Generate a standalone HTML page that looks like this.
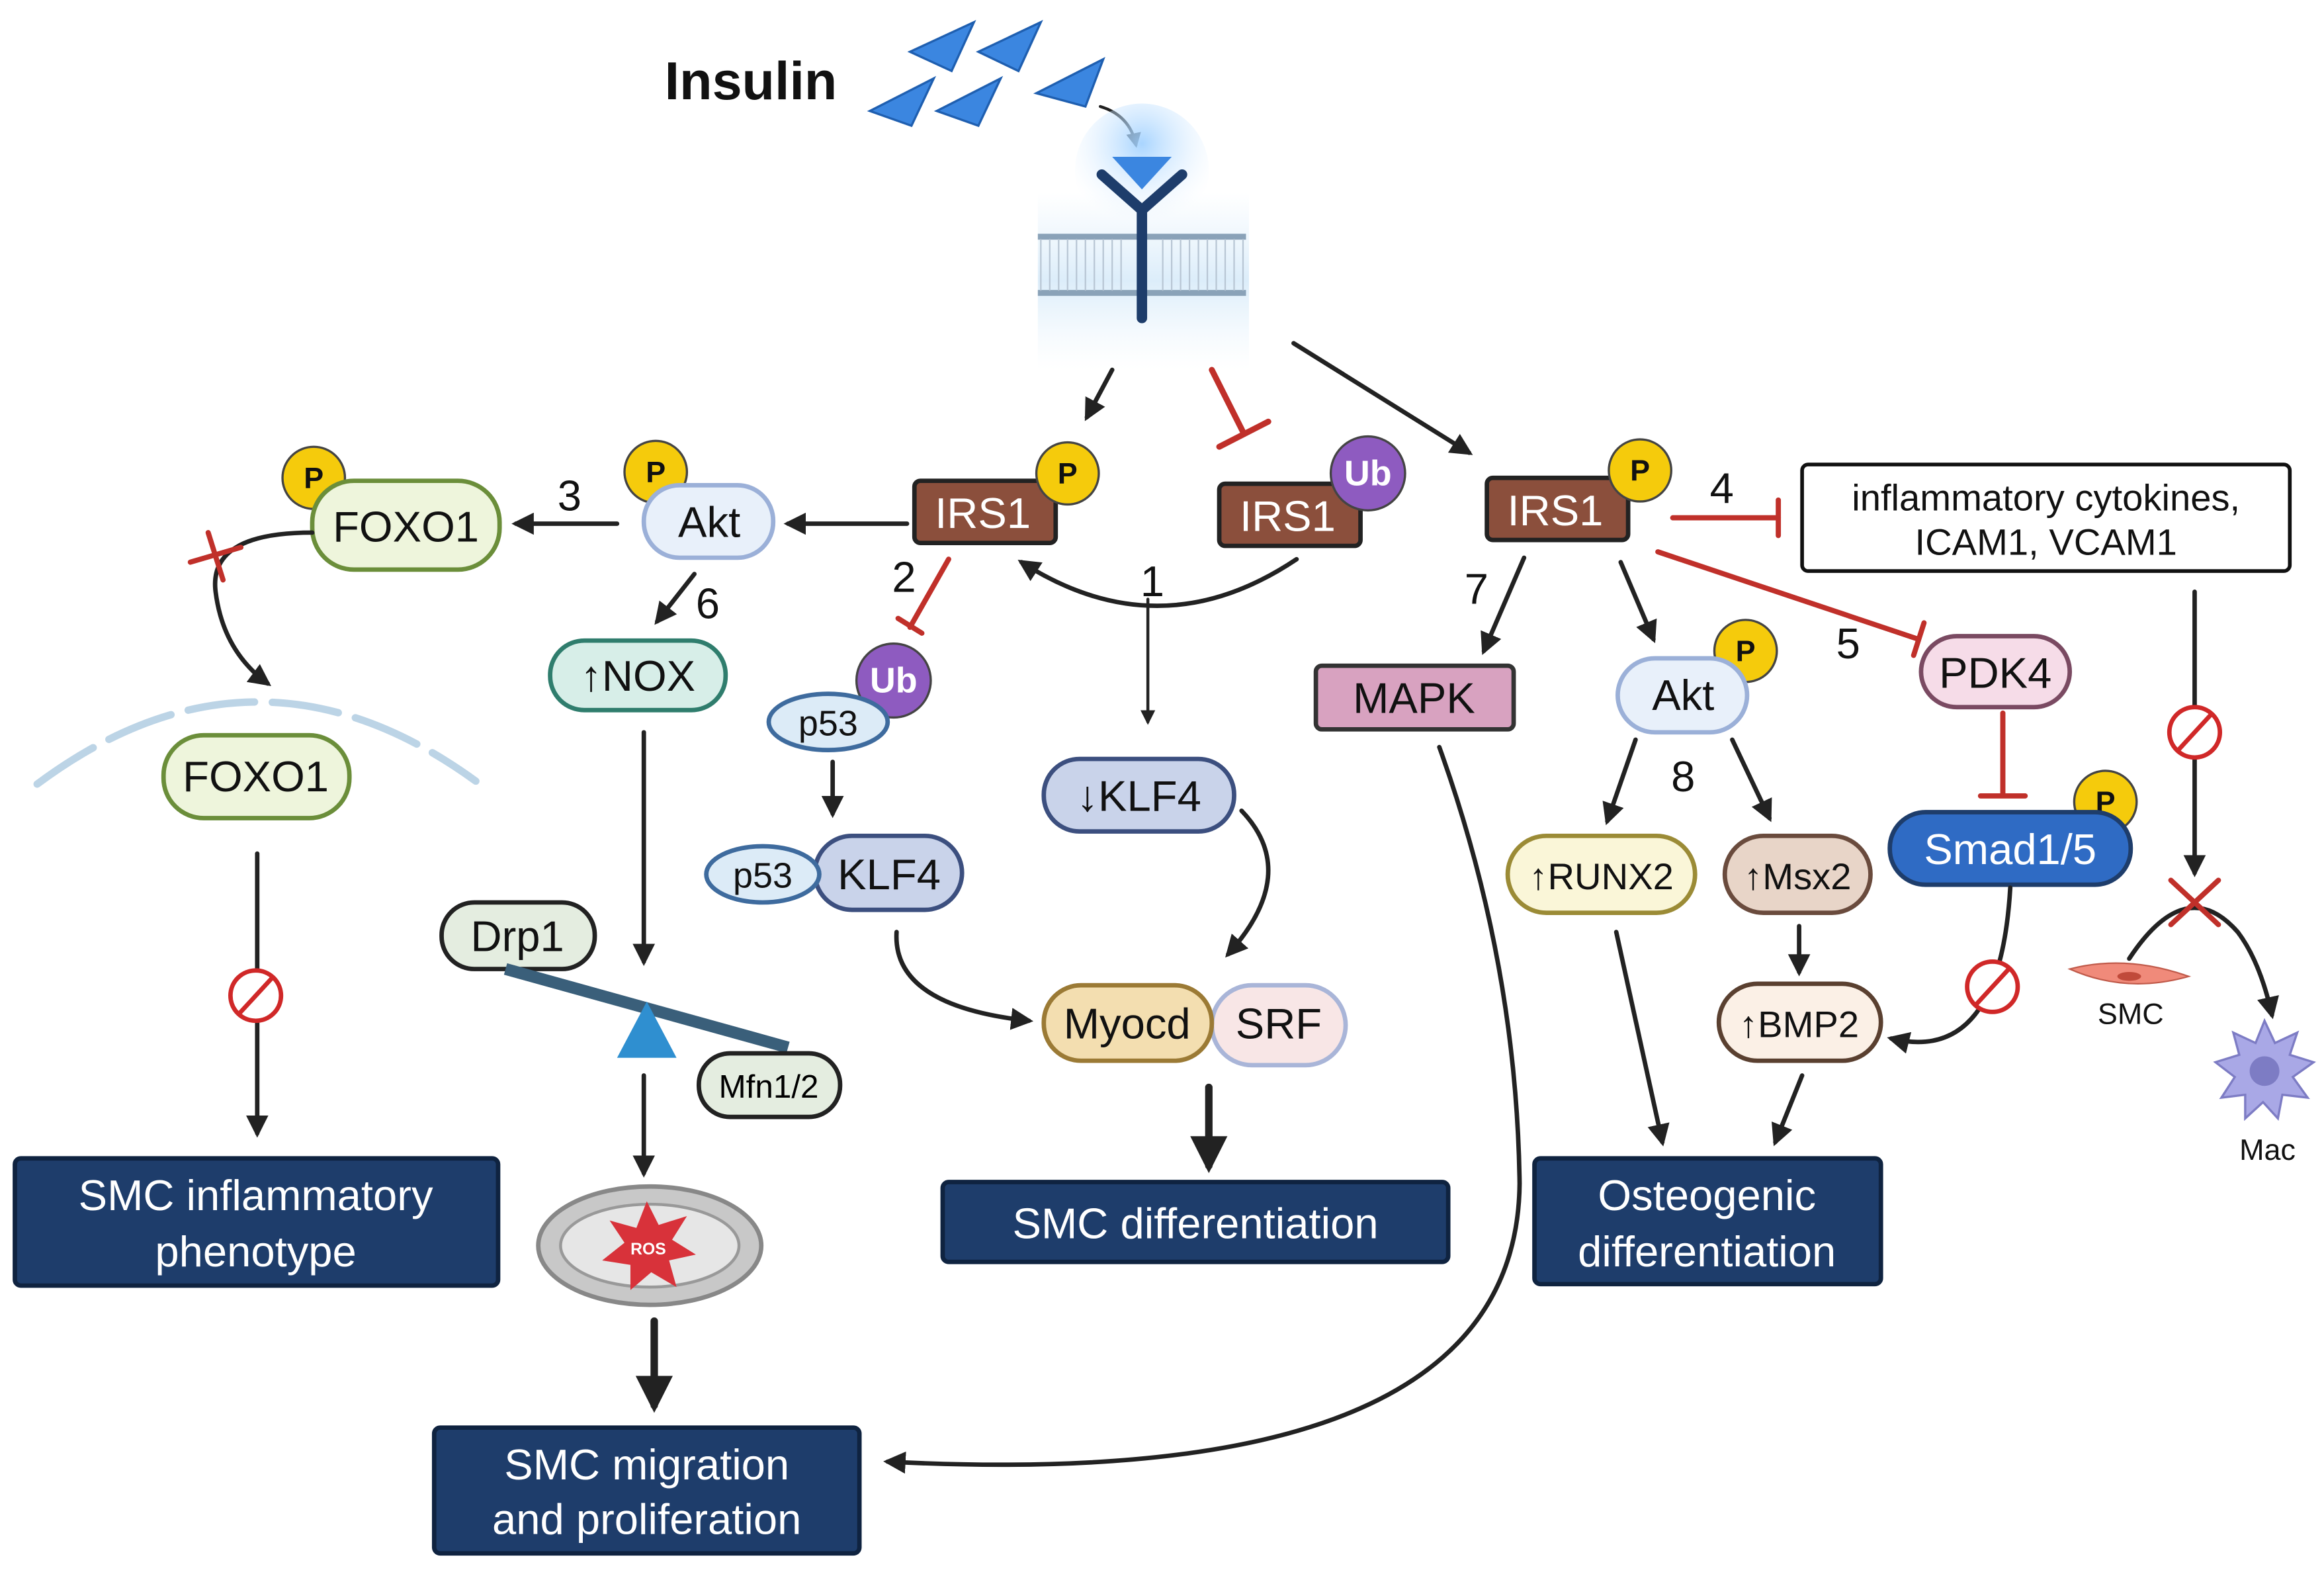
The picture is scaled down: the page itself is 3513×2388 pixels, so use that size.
<!DOCTYPE html>
<html><head><meta charset="utf-8"><style>
html,body{margin:0;padding:0;background:#fff}
svg{display:block}
text{font-family:"Liberation Sans",sans-serif}
</style></head><body>
<svg width="3513" height="2388" viewBox="0 0 1563 1068" preserveAspectRatio="none" xmlns="http://www.w3.org/2000/svg">
<defs>
<marker id="ah" viewBox="0 0 10 10" refX="8" refY="5" markerWidth="5" markerHeight="5" orient="auto"><path d="M0,0L10,5L0,10z" fill="#222"/></marker>
<radialGradient id="glow" cx="0.5" cy="0.3" r="0.6"><stop offset="0" stop-color="#9fd0ff" stop-opacity="0.9"/><stop offset="1" stop-color="#e8f4ff" stop-opacity="0"/></radialGradient>
<linearGradient id="mem" x1="0" y1="0" x2="0" y2="1"><stop offset="0" stop-color="#e3f1fb" stop-opacity="0"/><stop offset="0.5" stop-color="#dcedfa"/><stop offset="1" stop-color="#eef7fd" stop-opacity="0"/></linearGradient>
</defs>
<g stroke-linecap="round">
<!-- Insulin -->
<text x="447" y="67" font-size="36" font-weight="bold" fill="#111">Insulin</text>
<g fill="#3B86E0" stroke="#1f5fb0" stroke-width="1.5">
<polygon points="612,35 655,15 640,48"/><polygon points="658,35 700,15 685,48"/>
<polygon points="585,75 628,53 613,85"/><polygon points="630,75 673,53 658,85"/>
<polygon points="697,63 742,40 730,72"/>
</g>
<path d="M740,72 Q760,78 764,98" fill="none" stroke="#222" stroke-width="2" marker-end="url(#ah)"/>
<!-- receptor -->
<rect x="698" y="130" width="142" height="120" fill="url(#mem)"/>
<circle cx="768" cy="115" r="45" fill="url(#glow)"/>
<g fill="#8aa2b8">
<rect x="698" y="158" width="140" height="4"/><rect x="698" y="196" width="140" height="4"/>
</g>
<g stroke="#b8c6d4" stroke-width="1">
<path d="M700,162 V196 M706,162 V196 M712,162 V196 M718,162 V196 M724,162 V196 M730,162 V196 M736,162 V196 M742,162 V196 M748,162 V196 M754,162 V196 M782,162 V196 M788,162 V196 M794,162 V196 M800,162 V196 M806,162 V196 M812,162 V196 M818,162 V196 M824,162 V196 M830,162 V196 M836,162 V196"/>
</g>
<path d="M741,118 L768,142 L795,118" fill="none" stroke="#1e3d6b" stroke-width="7"/>
<line x1="768" y1="142" x2="768" y2="215" stroke="#1e3d6b" stroke-width="7"/>
<polygon points="748,106 788,106 768,128" fill="#3B86E0"/>
<!-- top arrows -->
<line x1="748" y1="250" x2="731" y2="282" stroke="#222" stroke-width="3" marker-end="url(#ah)"/>
<line x1="815" y1="250" x2="836" y2="292" stroke="#c0302a" stroke-width="4"/>
<line x1="820" y1="302" x2="853" y2="285" stroke="#c0302a" stroke-width="4"/>
<line x1="870" y1="232" x2="988" y2="306" stroke="#222" stroke-width="3" marker-end="url(#ah)"/>
</g>
<g font-size="29" text-anchor="middle" fill="#111">
<!-- IRS1 boxes -->
<rect x="615" y="325" width="95" height="42" rx="4" fill="#8B4F3C" stroke="#222" stroke-width="3"/><text x="661" y="357" fill="#fff">IRS1</text>
<rect x="820" y="327" width="95" height="42" rx="4" fill="#8B4F3C" stroke="#222" stroke-width="3"/><text x="866" y="359" fill="#fff">IRS1</text>
<rect x="1000" y="323" width="95" height="42" rx="4" fill="#8B4F3C" stroke="#222" stroke-width="3"/><text x="1046" y="355" fill="#fff">IRS1</text>
<!-- P / Ub -->
<g font-size="20" font-weight="bold">
<circle cx="718" cy="320" r="21" fill="#F5CB0C" stroke="#444" stroke-width="1.5"/><text x="718" y="327">P</text>
<circle cx="1103" cy="318" r="21" fill="#F5CB0C" stroke="#444" stroke-width="1.5"/><text x="1103" y="325">P</text>
<circle cx="441" cy="319" r="21" fill="#F5CB0C" stroke="#444" stroke-width="1.5"/><text x="441" y="326">P</text>
<circle cx="211" cy="323" r="21" fill="#F5CB0C" stroke="#444" stroke-width="1.5"/><text x="211" y="330">P</text>
<circle cx="1174" cy="440" r="21" fill="#F5CB0C" stroke="#444" stroke-width="1.5"/><text x="1174" y="447">P</text>
<circle cx="1416" cy="542" r="21" fill="#F5CB0C" stroke="#444" stroke-width="1.5"/><text x="1416" y="549">P</text>
<circle cx="920" cy="320" r="25" fill="#8E5BC0" stroke="#444" stroke-width="1.5"/><text x="920" y="328" fill="#fff" font-size="24">Ub</text>
<circle cx="601" cy="460" r="25" fill="#8E5BC0" stroke="#444" stroke-width="1.5"/><text x="601" y="468" fill="#fff" font-size="24">Ub</text>
</g>
<!-- left cluster -->
<rect x="433" y="328" width="87" height="49" rx="24" fill="#E8F0FA" stroke="#9BB0D8" stroke-width="3"/><text x="477" y="363">Akt</text>
<rect x="210" y="325" width="126" height="60" rx="28" fill="#EEF5DC" stroke="#6B8E3A" stroke-width="3"/><text x="273" y="366">FOXO1</text>
<rect x="370" y="433" width="118" height="47" rx="23" fill="#D7EEE8" stroke="#2F7D6D" stroke-width="3"/><text x="429" y="467">↑NOX</text>
<ellipse cx="557" cy="488" rx="40" ry="19" fill="#DCEBF7" stroke="#3E6B9E" stroke-width="3"/><text x="557" y="497" font-size="24">p53</text>
<rect x="548" y="565" width="99" height="50" rx="25" fill="#C9D3EA" stroke="#3C4F7F" stroke-width="3"/>
<ellipse cx="513" cy="591" rx="38" ry="19" fill="#DCEBF7" stroke="#3E6B9E" stroke-width="3"/><text x="513" y="600" font-size="24">p53</text>
<text x="598" y="601">KLF4</text>
<rect x="702" y="513" width="128" height="49" rx="24" fill="#C9D3EA" stroke="#3C4F7F" stroke-width="3"/><text x="766" y="548">↓KLF4</text>
<rect x="815" y="666" width="90" height="54" rx="27" fill="#F8E6E6" stroke="#A9B5D8" stroke-width="3"/><text x="860" y="702">SRF</text>
<rect x="702" y="666" width="113" height="51" rx="25" fill="#F3DEB0" stroke="#9B7A35" stroke-width="3"/><text x="758" y="702">Myocd</text>
<rect x="110" y="497" width="125" height="56" rx="27" fill="#EEF5DC" stroke="#6B8E3A" stroke-width="3"/><text x="172" y="535">FOXO1</text>
<rect x="297" y="610" width="103" height="45" rx="22" fill="#E4EDE0" stroke="#222" stroke-width="3"/><text x="348" y="643">Drp1</text>
<!-- right cluster -->
<rect x="885" y="450" width="133" height="43" rx="4" fill="#D8A2C0" stroke="#333" stroke-width="3"/><text x="951" y="482">MAPK</text>
<rect x="1088" y="445" width="87" height="50" rx="25" fill="#E8F0FA" stroke="#9BB0D8" stroke-width="3"/><text x="1132" y="480">Akt</text>
<rect x="1014" y="565" width="126" height="52" rx="26" fill="#FAF6D8" stroke="#9B8B36" stroke-width="3"/><text x="1077" y="601" font-size="25">↑RUNX2</text>
<rect x="1160" y="565" width="98" height="52" rx="26" fill="#E8D5C8" stroke="#6A4B3D" stroke-width="3"/><text x="1209" y="601" font-size="25">↑Msx2</text>
<rect x="1156" y="665" width="109" height="52" rx="26" fill="#FBF0E6" stroke="#5A4030" stroke-width="3"/><text x="1210" y="701" font-size="25">↑BMP2</text>
<rect x="1292" y="430" width="100" height="48" rx="24" fill="#F6DCE8" stroke="#7A4A62" stroke-width="3"/><text x="1342" y="465">PDK4</text>
<rect x="1271" y="549" width="162" height="49" rx="24" fill="#2F6BC4" stroke="#1e3d6b" stroke-width="3"/><text x="1352" y="584" fill="#fff">Smad1/5</text>
<circle cx="1416" cy="542" r="21" fill="#F5CB0C" stroke="#444" stroke-width="1.5" opacity="0"/>
<rect x="1212" y="314" width="328" height="72" rx="4" fill="#fff" stroke="#111" stroke-width="2.5"/>
<text x="1376" y="345" font-size="25">inflammatory cytokines,</text><text x="1376" y="375" font-size="25">ICAM1, VCAM1</text>
<!-- numbers -->
<text x="383" y="345">3</text><text x="608" y="400">2</text><text x="775" y="403">1</text><text x="476" y="418">6</text>
<text x="993" y="408">7</text><text x="1158" y="340">4</text><text x="1243" y="445">5</text><text x="1132" y="535">8</text>
<!-- dark boxes -->
<g fill="#fff">
<rect x="10" y="783" width="325" height="86" rx="4" fill="#1E3D6B" stroke="#0f2340" stroke-width="3"/>
<text x="172" y="818">SMC inflammatory</text><text x="172" y="856">phenotype</text>
<rect x="634" y="799" width="340" height="54" rx="4" fill="#1E3D6B" stroke="#0f2340" stroke-width="3"/>
<text x="804" y="837">SMC differentiation</text>
<rect x="292" y="965" width="286" height="85" rx="4" fill="#1E3D6B" stroke="#0f2340" stroke-width="3"/>
<text x="435" y="1000">SMC migration</text><text x="435" y="1037">and proliferation</text>
<rect x="1032" y="783" width="233" height="85" rx="4" fill="#1E3D6B" stroke="#0f2340" stroke-width="3"/>
<text x="1148" y="818">Osteogenic</text><text x="1148" y="856">differentiation</text>
</g>
<text x="1433" y="692" font-size="20">SMC</text><text x="1525" y="784" font-size="20">Mac</text>
</g>
<g fill="none" stroke="#222" stroke-width="3" stroke-linecap="round">
<line x1="415" y1="354" x2="347" y2="354" marker-end="url(#ah)"/>
<line x1="610" y1="354" x2="530" y2="354" marker-end="url(#ah)"/>
<path d="M872,378 Q780,440 687,380" marker-end="url(#ah)"/>
<line x1="772" y1="405" x2="772" y2="488" stroke-width="2" marker-end="url(#ah)"/>
<line x1="467" y1="388" x2="442" y2="420" marker-end="url(#ah)"/>
<line x1="560" y1="515" x2="560" y2="550" marker-end="url(#ah)"/>
<path d="M835,548 Q875,590 826,645" marker-end="url(#ah)"/>
<path d="M603,630 Q600,680 692,690" marker-end="url(#ah)"/>
<line x1="813" y1="735" x2="813" y2="788" stroke-width="5" marker-end="url(#ah)"/>
<path d="M210,360 Q140,360 145,400 Q150,440 180,462" marker-end="url(#ah)"/>
<line x1="173" y1="577" x2="173" y2="766" marker-end="url(#ah)"/>
<line x1="433" y1="495" x2="433" y2="650" marker-end="url(#ah)"/>
<line x1="433" y1="727" x2="433" y2="793" marker-end="url(#ah)"/>
<line x1="440" y1="893" x2="440" y2="950" stroke-width="5" marker-end="url(#ah)"/>
<path d="M968,505 Q1020,650 1022,800 Q1020,1010 597,988" marker-end="url(#ah)"/>
<line x1="1025" y1="377" x2="998" y2="440" marker-end="url(#ah)"/>
<line x1="1090" y1="380" x2="1112" y2="432" marker-end="url(#ah)"/>
<line x1="1100" y1="500" x2="1081" y2="555" marker-end="url(#ah)"/>
<line x1="1165" y1="500" x2="1190" y2="553" marker-end="url(#ah)"/>
<line x1="1210" y1="626" x2="1210" y2="657" marker-end="url(#ah)"/>
<line x1="1087" y1="630" x2="1118" y2="772" marker-end="url(#ah)"/>
<line x1="1212" y1="727" x2="1194" y2="772" marker-end="url(#ah)"/>
<path d="M1352,600 Q1345,720 1272,702" marker-end="url(#ah)"/>
<line x1="1476" y1="400" x2="1476" y2="590" marker-end="url(#ah)"/>
<path d="M1432,648 Q1470,590 1505,630 Q1520,650 1528,686" marker-end="url(#ah)"/>
</g>
<!-- red inhibitions -->
<g stroke="#c0302a" stroke-width="3.5" fill="none" stroke-linecap="round">
<line x1="638" y1="378" x2="612" y2="424"/><line x1="604" y1="418" x2="620" y2="428"/>
<line x1="1125" y1="350" x2="1196" y2="350"/><line x1="1196" y1="338" x2="1196" y2="362"/>
<line x1="1115" y1="373" x2="1290" y2="432"/><line x1="1294" y1="421" x2="1287" y2="443"/>
<line x1="1347" y1="482" x2="1347" y2="537"/><line x1="1332" y1="538" x2="1362" y2="538"/>
<line x1="128" y1="380" x2="162" y2="370"/><line x1="140" y1="360" x2="150" y2="392"/>
<line x1="1460" y1="595" x2="1492" y2="625"/><line x1="1492" y1="595" x2="1460" y2="625"/>
</g>
<g stroke="#d02828" stroke-width="3" fill="#fff">
<circle cx="172" cy="673" r="17"/><line x1="161" y1="685" x2="183" y2="661"/>
<circle cx="1476" cy="495" r="17"/><line x1="1465" y1="507" x2="1487" y2="483"/>
<circle cx="1340" cy="667" r="17"/><line x1="1329" y1="679" x2="1351" y2="655"/>
</g>
<!-- nuclear membrane -->
<path d="M25,530 Q172,420 320,528" fill="none" stroke="#BCD4E6" stroke-width="5" stroke-dasharray="45,12" stroke-linecap="round"/>
<!-- seesaw -->
<line x1="340" y1="655" x2="530" y2="708" stroke="#3A5F7A" stroke-width="8"/>
<polygon points="435,677 415,715 455,715" fill="#2f8fd0"/>
<rect x="470" y="712" width="95" height="43" rx="21" fill="#E4EDE0" stroke="#222" stroke-width="3"/>
<text x="517" y="742" font-size="22" text-anchor="middle">Mfn1/2</text>
<!-- mito -->
<ellipse cx="437" cy="842" rx="75" ry="40" fill="#c8c8c8" stroke="#888" stroke-width="3"/>
<ellipse cx="437" cy="842" rx="60" ry="28" fill="#e6e6e6" stroke="#999" stroke-width="2"/>
<polygon points="435,812 443,828 462,822 452,838 468,848 450,852 455,870 438,860 424,872 424,855 405,852 420,840 410,825 428,830" fill="#d8323a"/>
<text x="436" y="848" font-size="11" font-weight="bold" fill="#fff" text-anchor="middle">ROS</text>
<!-- SMC cell, Mac -->
<path d="M1392,655 Q1430,645 1472,660 Q1430,672 1392,655z" fill="#f08a7a" stroke="#c05a4a" stroke-width="1"/>
<ellipse cx="1432" cy="660" rx="8" ry="3" fill="#c04a3a"/>
<g fill="#a9a8e6" stroke="#7d7cc4" stroke-width="1.5">
<polygon points="1523,690 1530,705 1545,698 1540,713 1556,718 1542,728 1552,742 1535,740 1532,756 1522,745 1510,756 1510,740 1494,742 1503,728 1490,718 1506,713 1502,698 1517,705"/>
</g>
<circle cx="1523" cy="724" r="10" fill="#7d7cc4"/>
</svg>
</body></html>
